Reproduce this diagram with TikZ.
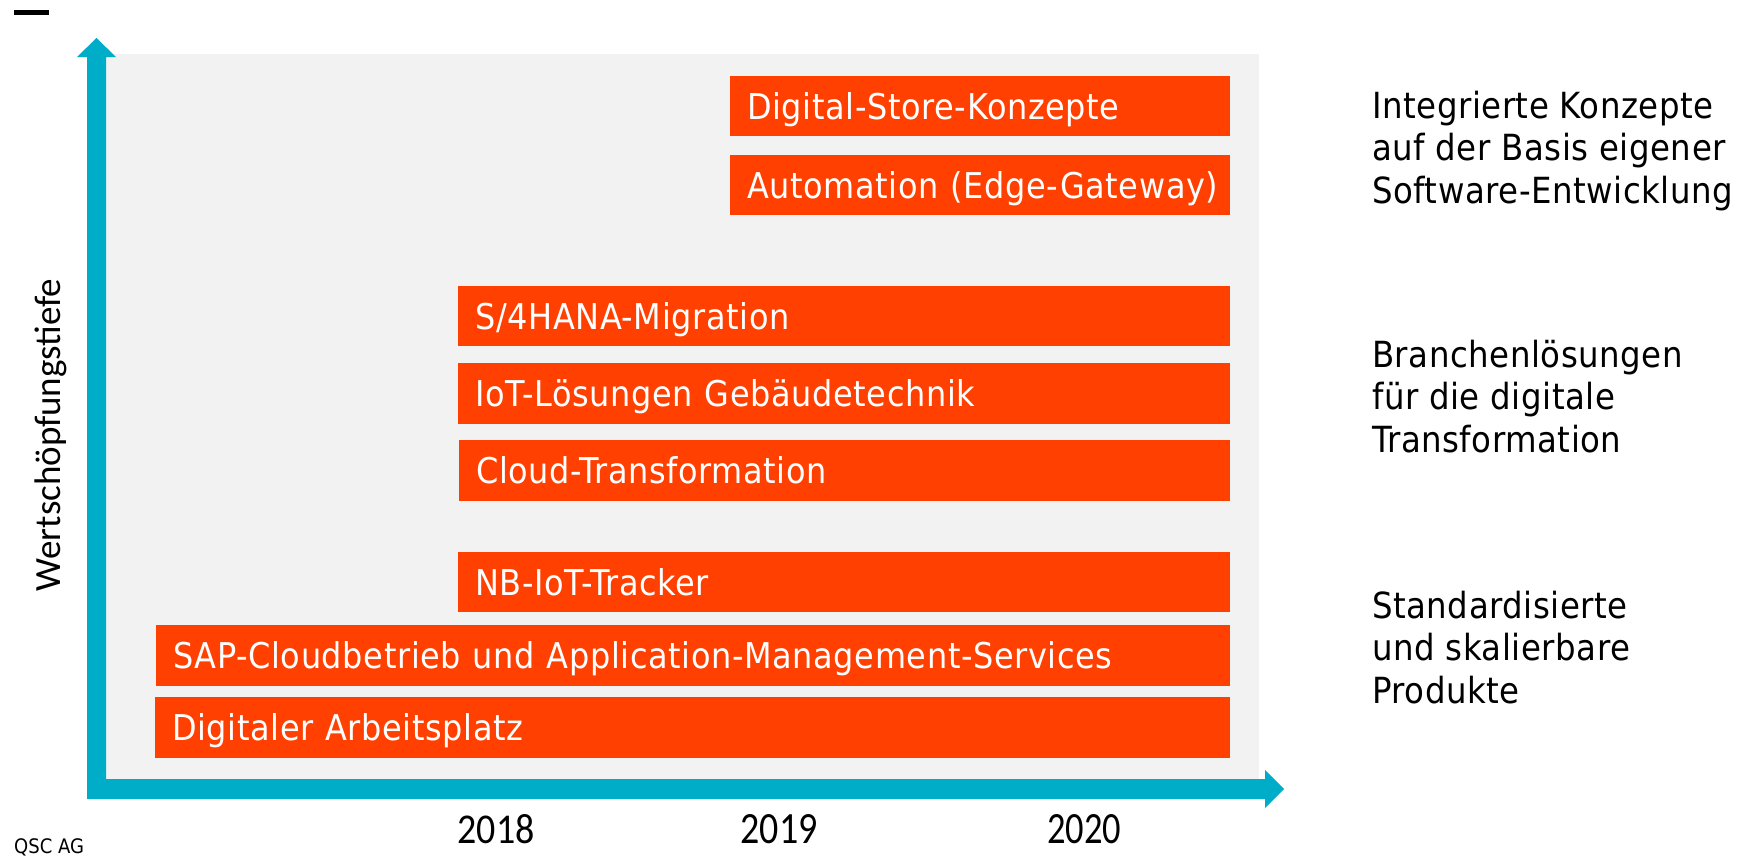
\documentclass[tikz,border=0pt]{standalone}
\usepackage{fontspec}
\setmainfont{DejaVu Sans Condensed}
\newfontfamily\barfont[LetterSpace=1.8]{DejaVu Sans Condensed}
\newfontfamily\sidefont[LetterSpace=1.5]{DejaVu Sans Condensed}
\newfontfamily\calfont{Carlito}
\definecolor{bggray}{RGB}{242,242,242}
\definecolor{axiscyan}{RGB}{0,173,200}
\definecolor{barorange}{RGB}{255,64,0}
\tikzset{
  bar/.style={fill=barorange, draw=none, anchor=north west, inner xsep=17pt, inner ysep=0pt,
    text=white, align=left, text height=30pt, text depth=4pt, font=\barfont\fontsize{35.5}{42}\selectfont},
  sidetext/.style={anchor=base west, inner sep=0pt, font=\sidefont\fontsize{36}{42}\selectfont, text=black},
  yearlbl/.style={anchor=south, inner sep=0pt, font=\calfont},
}
\newcommand{\barnode}[6]{% name, left, top, right, bottom, text
  \pgfmathsetmacro{\bw}{#4-#2-34}
  \pgfmathsetmacro{\bh}{#5-#3}
  \node[bar, text width=\bw pt, minimum height=\bh pt] (#1) at (#2,#3) {\makebox[\bw pt][l]{#6}};
}
\begin{document}
\begin{tikzpicture}[x=1pt,y=-1pt]
\path[use as bounding box] (0,0) rectangle (1753,855);
% top-left dash
\fill[black] (14,10) rectangle (49,15);
% background panel
\fill[bggray] (106,54) rectangle (1259,779);
% axes
\fill[axiscyan] (87,799) -- (87,57) -- (77,57) -- (96.5,38) -- (116,57) -- (106,57) -- (106,779)
  -- (1265,779) -- (1265,770) -- (1284,789) -- (1265,808) -- (1265,799) -- cycle;
% bars
\barnode{ds}{730}{76}{1230}{136}{Digital-Store-Konzepte}
\barnode{au}{730}{155}{1230}{215}{Automation (Edge-Gateway)}
\barnode{s4}{458}{286}{1230}{346}{S/4HANA-Migration}
\barnode{iot}{458}{363}{1230}{424}{IoT-Lösungen Gebäudetechnik}
\barnode{cl}{459}{440}{1230}{501}{Cloud-Transformation}
\barnode{nb}{458}{552}{1230}{612}{NB-IoT-Tracker}
\barnode{sap}{156}{625}{1230}{686}{SAP-Cloudbetrieb und Application-Management-Services}
\barnode{da}{155}{697}{1230}{758}{Digitaler Arbeitsplatz}
% right side texts
\node[sidetext] (g1a) at (1372,118) {Integrierte Konzepte};
\node[sidetext] (g1b) at (1372,160.5) {auf der Basis eigener};
\node[sidetext] (g1c) at (1372,203) {Software-Entwicklung};
\node[sidetext] (g2a) at (1372,367) {Branchenlösungen};
\node[sidetext] (g2b) at (1372,409.5) {für die digitale};
\node[sidetext] (g2c) at (1372,452) {Transformation};
\node[sidetext] (g3a) at (1372,618) {Standardisierte};
\node[sidetext] (g3b) at (1372,660.5) {und skalierbare};
\node[sidetext] (g3c) at (1372,703) {Produkte};
% y axis label
\node[anchor=base, rotate=90, inner sep=0pt, font=\calfont\fontsize{37}{44}\selectfont] (ylbl) at (60,435) {Wertschöpfungstiefe};
% years
\node[yearlbl] (y18) at (496,844) {\resizebox{77pt}{29pt}{2018}};
\node[yearlbl] (y19) at (779,844) {\resizebox{77pt}{29pt}{2019}};
\node[yearlbl] (y20) at (1084,844) {\resizebox{74pt}{29pt}{2020}};
% footer
\node[anchor=base west, inner sep=0pt, font=\fontsize{20}{24}\selectfont] (qsc) at (14,853) {QSC AG};
\end{tikzpicture}
\end{document}
